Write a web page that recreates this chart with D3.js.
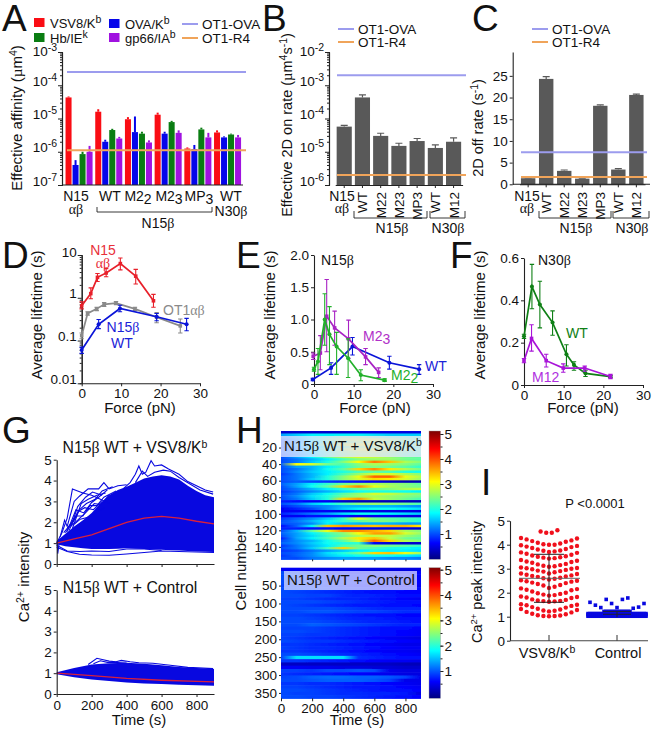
<!DOCTYPE html>
<html>
<head>
<meta charset="utf-8">
<script src="https://cdn.jsdelivr.net/npm/d3@7"></script>
<style>
html, body { margin: 0; padding: 0; background: #fff; }
svg { display: block; }
text { font-family: "Liberation Sans", Arial, sans-serif; fill: #111; }
</style>
</head>
<body>
<div id="fig"></div>
<script>
// panel A, effective affinity
const affGroups = ['N15', 'WT', 'M22', 'M23', 'MP3', 'WT30'];
const affSeries = ['VSV8', 'OVA', 'Hb', 'gp66'];
const affVsv = [4.3e-5, 1.6e-5, 9.5e-6, 1.3e-5, 1.25e-6, 3.8e-6];
const affVsvErr = [4.6e-5, 1.9e-5, 1.1e-5, 1.5e-5, 1.35e-6, 4.4e-6];
const affOva = [4e-7, 2e-6, 3.9e-6, 3.5e-6, 1.2e-6, 2.7e-6];
const affOvaErr = [5.6e-7, 2.3e-6, 1.15e-5, 4e-6, 1.6e-6, 2.9e-6];
const affHb = [8.5e-7, 4.5e-6, 3.5e-6, 7.8e-6, 4.7e-6, 3.3e-6];
const affHbErr = [1e-6, 4.9e-6, 4e-6, 8.5e-6, 5.3e-6, 3.5e-6];
const affGp = [1e-6, 2.5e-6, 1.9e-6, 3.7e-6, 2.7e-6, 2.7e-6];
const affGpErr = [1.5e-6, 2.8e-6, 2.2e-6, 4.4e-6, 3.7e-6, 3.2e-6];
const affOt1Ova = 2.5e-4;
const affOt1R4 = 1.1e-6;

// panels B and C
const rateGroups = ['N15', 'WT', 'M22', 'M23', 'MP3', 'WT30', 'M12'];
const onRate = [5.7e-5, 4.3e-4, 3e-5, 1.5e-5, 2.1e-5, 1.3e-5, 2e-5];
const onRateErr = [6.2e-5, 5.1e-4, 3.6e-5, 1.8e-5, 2.5e-5, 1.6e-5, 2.6e-5];
const onOt1Ova = 2e-3;
const onOt1R4 = 2e-6;
const offRate = [1.4, 24.3, 3.1, 1.3, 18.1, 3.4, 20.6];
const offRateErr = [1.5, 24.8, 3.3, 1.4, 18.3, 3.6, 20.8];
const offOt1Ova = 7.4;
const offOt1R4 = 1.7;

// panels D, E, F: [force, mean, low, high]
const dN15ab = [[0, .65, .55, .8], [2.3, 1.25, .95, 1.7], [4, 3, 2.4, 3.7], [6.2, 3.8, 3.1, 4.8], [9.8, 6.3, 4.5, 8.5], [13.7, 3.2, 2.1, 4.6], [18.2, .85, .6, 1.2]];
const dOt1ab = [[0, .13, .11, .15], [1.5, .43, .39, .47], [3.8, .55, .5, .6], [5.7, .7, .63, .77], [8.7, .75, .69, .82], [13.5, .55, .5, .6], [19, .35, .26, .45], [25, .22, .15, .32]];
const dN15Wt = [[0, .06, .05, .07], [4.3, .24, .19, .31], [9.7, .56, .47, .67], [19, .36, .29, .43], [26.6, .24, .17, .33]];
const eWt = [[-.3, .07, .05, .09], [4.3, .25, .15, .33], [9.7, .58, .45, .72], [19, .33, .23, .43], [26.5, .23, .15, .3]];
const eM23 = [[-.2, .43, .38, .48], [1.6, .48, .22, .75], [3.2, 1.05, .5, 1.62], [5.2, .87, .6, 1.13], [8.7, .7, .4, .99], [13, .42, .3, .55], [16.3, .18, .1, .25]];
const eM22 = [[0, .23, .2, .26], [1, .35, .15, .55], [2.7, 1, .6, 1.4], [3.9, .77, .3, 1.2], [5.7, .58, .15, .8], [8.6, .4, .1, .7], [11.8, .14, .05, .22], [17.8, .06, .04, .08]];
const fWt = [[0, .23, .22, .24], [2, .465, .36, .57], [4, .38, .27, .49], [7.2, .295, .235, .35], [10.7, .145, .09, .19], [12.6, .095, .07, .11], [15.5, .055, .04, .07], [21.8, .04, .035, .045]];
const fM12 = [[0, .115, .105, .125], [1.9, .22, .16, .285], [5.6, .115, .085, .145], [9.9, .08, .06, .1], [15.3, .08, .065, .09], [21.8, .04, .03, .05]];

// panel G: [time, intensity]
const gTopUpper = [[0, 1.1], [50, 1.45], [100, 1.8], [150, 2.1], [200, 2.45], [250, 2.9], [300, 3.3], [350, 3.55], [400, 3.7], [450, 3.9], [500, 4.1], [550, 4.2], [600, 4.25], [650, 4.2], [700, 4.05], [750, 3.75], [800, 3.5], [850, 3.3], [900, 3.2]];
const gTopLower = [[0, .95], [50, .85], [100, .8], [150, .75], [200, .72], [300, .72], [400, .75], [500, .72], [600, .68], [700, .65], [800, .6], [900, .58]];
const gTopMean = [[0, 1], [100, 1.2], [200, 1.4], [300, 1.7], [400, 2], [500, 2.2], [600, 2.28], [700, 2.2], [800, 2.05], [900, 1.92]];
const gTopTraces = [
  [[0, 1], [30, 1.5], [60, 2.2], [90, 3.6], [120, 3.5], [150, 3.4], [200, 3.3], [250, 3.1], [300, 2.9]],
  [[20, 1.3], [45, 2.1], [60, 1.8], [100, 3], [130, 3.25], [180, 3.6], [240, 3.6], [270, 3.9], [300, 3.6], [350, 3.75], [400, 3.8]],
  [[50, 1.5], [100, 2.1], [130, 2.6], [170, 2.9], [220, 3.1], [260, 3.5], [320, 3.7]],
  [[60, 1.7], [110, 2.3], [150, 2.3], [190, 2.8], [230, 2.8], [270, 3.2], [340, 3.5]],
  [[70, 1.6], [120, 2.5], [160, 2.7], [210, 2.6], [260, 3]],
  [[80, 1.8], [120, 2.1], [170, 2.5], [215, 2.9], [250, 2.85], [300, 3.3]],
  [[90, 1.7], [140, 2.9], [180, 3.1], [230, 3.3], [280, 3.4]],
  [[40, 1.5], [90, 2], [120, 2.75], [165, 3.2], [205, 3.45], [260, 3.3]],
  [[100, 1.9], [135, 2.15], [185, 2.25], [225, 2.5], [275, 2.7]],
  [[60, 1.55], [110, 2.6], [155, 2.45], [200, 2.95], [240, 3.2], [290, 3.55]],
  [[380, 3.6], [420, 3.9], [450, 4.3], [470, 4.7], [490, 4.3], [510, 4.4], [540, 4.95], [560, 4.7], [600, 4.75], [640, 4.55], [700, 4.3], [750, 3.95], [800, 3.75], [850, 3.55], [895, 3.45]],
  [[450, 3.9], [490, 4.45], [520, 4.2], [560, 4.4], [610, 4.5], [650, 4.45], [700, 4.15], [760, 3.85], [820, 3.55], [895, 3.35]],
  [[0, .9], [60, .62], [130, .6], [200, .62], [300, .6], [400, .72], [500, .72], [600, .65]],
  [[0, .8], [60, .6], [130, .47], [200, .43], [300, .42], [400, .48], [500, .55], [600, .62], [900, .55]],
  [[3, 1], [6, .5], [14, 1]]
];
const gBotUpper = [[0, 1.05], [100, 1.25], [200, 1.42], [300, 1.48], [400, 1.5], [500, 1.45], [600, 1.38], [700, 1.3], [800, 1.25], [900, 1.2]];
const gBotLower = [[0, .95], [100, .8], [200, .7], [300, .62], [400, .55], [500, .5], [700, .45], [900, .4]];
const gBotMean = [[0, 1], [200, .88], [400, .75], [600, .66], [900, .58]];
const gBotTraces = [
  [[180, 1.42], [230, 1.72], [260, 1.66], [300, 1.58], [340, 1.55], [370, 1.62], [420, 1.55], [470, 1.5], [550, 1.48], [650, 1.38], [750, 1.28], [895, 1.22]],
  [[210, 1.45], [250, 1.6], [290, 1.52], [350, 1.52], [400, 1.54]]
];

// panel H: one row per group of cells, values at 0, 100 ... 900 s
const hTimes = [0, 100, 200, 300, 400, 500, 600, 700, 800, 900];
const hTopRows = [
  [.4, .4, .4, .4, .4, .5, .5, .5, .5, .5],
  [1.4, 1.6, 1.8, 1.8, 1.8, 1.8, 1.7, 1.6, 1.6, 1.6],
  [1.2, 1.5, 1.9, 2.2, 2.5, 2.6, 2.4, 2.3, 2.3, 2.2],
  [1, 1.4, 1.9, 2.4, 2.8, 2.9, 3, 2.7, 2.5, 2.4],
  [1, 1.3, 1.8, 2.2, 2.5, 2.7, 2.6, 2.5, 2.3, 2.1],
  [1, 1.5, 2, 2.6, 3, 3.1, 3, 2.9, 2.6, 2.5],
  [.9, 1.4, 1.8, 2.1, 2.5, 2.7, 2.6, 2.4, 2.3, 2.2],
  [1, 1.3, 1.9, 2.3, 2.8, 3, 3, 2.8, 2.6, 2.3],
  [1.1, 1.4, 1.8, 2.2, 2.6, 2.8, 2.8, 2.6, 2.4, 2.3],
  [1, 1.3, 1.7, 2.2, 2.5, 2.7, 2.7, 2.5, 2.3, 2.2],
  [1, 1.4, 1.8, 2.3, 2.7, 2.9, 2.8, 2.6, 2.4, 2.3],
  [1, 1.2, 1.5, 1.8, 2.2, 2.5, 2.6, 2.6, 2.4, 2.3],
  [1, 1.2, 1.6, 2, 2.5, 3.1, 3.8, 3.4, 2.7, 2.5],
  [1.1, 3.1, 2.9, 2.4, 2.2, 2.5, 2.7, 2.6, 2.5, 2.3],
  [1, 1.4, 1.5, 1.8, 2.1, 2.4, 2.5, 2.4, 2.3, 2.1],
  [1, 1.2, 1.5, 1.9, 2.3, 3.3, 3.7, 3.2, 2.7, 2.4],
  [1, 1.3, 1.6, 1.8, 2, 2.2, 2.3, 2.2, 2, 1.9],
  [.9, 1.2, 1.5, 1.8, 2.2, 2.6, 2.9, 2.9, 2.7, 2.5],
  [1, 1.2, 1.5, 2, 2.5, 3, 3.9, 3.9, 3, 2.7],
  [1, 1.2, 1.6, 2, 2.5, 2.9, 3.3, 3.2, 2.9, 2.6],
  [1, 1.1, 1, .9, .8, .7, .6, .4, .3, .3],
  [1.1, 1.4, 1.8, 2.1, 2.4, 2.6, 2.7, 2.6, 2.5, 2.3],
  [1, 1.4, 1.9, 2.3, 3.3, 3.7, 3, 2.7, 2.5, 2.4],
  [1, 1.2, 1.5, 1.8, 2.1, 2.4, 2.4, 2.5, 2.7, 2.8],
  [.9, 1.1, 1.3, 1.5, 1.7, 1.9, 2, 2, 1.9, 1.8],
  [1, 1.2, 1.6, 1.9, 2.3, 2.6, 2.9, 2.8, 2.6, 2.5],
  [1, 1.3, 1.7, 2, 2.4, 2.6, 2.7, 2.6, 2.5, 2.4],
  [1, 1.2, 1.6, 2, 3.3, 3.6, 2.8, 2.6, 2.4, 2.2],
  [.8, .7, .6, .6, .4, .3, .3, .3, .3, .3],
  [1, 1.2, 1.6, 1.9, 2.2, 2.5, 2.6, 2.5, 2.4, 2.2],
  [.8, 1, 1.2, 1.3, 1.5, 1.5, 1.5, 1.5, 1.4, 1.3],
  [.6, .8, 1, 1.3, 1.6, 1.8, 1.9, 1.9, 1.8, 1.7],
  [.6, .6, .6, .6, .5, .5, .5, .5, .5, .5],
  [.8, 1, 1.2, 1.4, 1.7, 1.9, 1.9, 1.8, 1.7, 1.6],
  [.6, .6, .7, .7, .7, .6, .6, .6, .5, .5],
  [.9, 1.1, 1.3, 1.6, 2.1, 3, 2.4, 2.3, 2.2, 2.1],
  [1, 1.2, 1.5, 1.8, 2.1, 2.3, 2.5, 2.4, 2.2, 2],
  [1, 1.1, 1.3, 1.8, 1.6, 1.5, 1.5, 1.5, 1.4, 1.4],
  [.7, 1.1, 1.8, 3.4, 3.6, 3.5, 3.4, 3.5, 3.5, 3.2],
  [.8, .8, .7, .7, .6, .6, .5, .5, .5, .4],
  [1, 1.5, 2.3, 3, 3.7, 3.7, 3.5, 3.3, 2.7, 2.5],
  [1.1, 1.4, 1.8, 2.2, 2.5, 3.1, 3.6, 3.6, 2.9, 2.6],
  [1, 1.4, 1.7, 2.1, 2.4, 2.7, 2.8, 2.8, 2.6, 2.4],
  [.8, 1.4, 1.8, 2.2, 2.7, 3.2, 3.4, 2.8, 2.4, 2.3],
  [1, 1.3, 1.5, 1.9, 2.3, 2.9, 3.9, 3.3, 2.7, 2.5],
  [1.1, 1.3, 1.6, 1.9, 2, 2.1, .6, .4, .4, .4],
  [.9, 1.2, 1.5, 1.8, 2.2, 2.4, 2.5, 2.4, 2.3, 2.1],
  [1, 1.2, 1.6, 2.2, 3.3, 2.4, 2.2, 2, 1.9, 1.8],
  [.9, 1, 1.2, 1.4, 1.6, 1.8, 1.9, 1.8, 1.8, 1.7],
  [1, 1.1, 1.3, 1.7, 2, 2.4, 3.3, 3.4, 3, 2.6],
  [.9, 1.1, 1.3, 1.6, 1.8, 1.9, 1.9, 1.9, 1.8, 1.7],
  [1, 1, 1.2, 1.3, 1.4, 1.4, 1.4, 1.3, 1.3, 1.2]
];
const hBotRows = [
  [.6, .6, .5, .5, .5, .5, .5, .5, .5, .5],
  [1, .95, .9, .8, .75, .7, .7, .7, .65, .65],
  [1, 1, .9, .85, .8, .75, .7, .7, .7, .65],
  [1, .95, .9, .85, .8, .75, .75, .7, .65, .65],
  [1, 1, .95, .85, .8, .8, .75, .7, .7, .65],
  [.95, .95, .9, .85, .8, .7, .7, .65, .65, .6],
  [1, 1, .95, .9, .85, .8, .75, .75, .7, .7],
  [1, .95, .9, .85, .8, .75, .7, .7, .65, .65],
  [1, 1, .95, .95, .85, .8, .8, .75, .7, .7],
  [.95, .95, .9, .85, .8, .8, .75, .7, .65, .6],
  [1, 1, 1, .95, .9, .85, .8, .75, .7, .7],
  [1, .95, .9, .85, .8, .75, .75, .7, .7, .65],
  [1, 1, 1, 1, .95, .9, .85, .8, .8, .8],
  [1, 1, 1.05, 1.05, 1, .95, .95, .9, .85, .85],
  [.95, .95, .9, .85, .8, .75, .7, .7, .65, .65],
  [1, 1, .95, .9, .85, .8, .8, .75, .7, .7],
  [1, 1, 1, .95, .9, .85, .8, .8, .75, .7],
  [1, 1, 1.1, 1.05, 1, .95, .9, .85, .8, .8],
  [.95, .95, .95, .9, .85, .8, .75, .7, .7, .65],
  [1, 1, .95, .9, .85, .8, .75, .7, .65, .6],
  [.95, .95, .9, .9, .85, .8, .75, .7, .65, .6],
  [.95, .9, .85, .8, .75, .7, .65, .6, .55, .5],
  [1, .95, .9, .9, .85, .8, .75, .7, .65, .6],
  [.9, .9, .85, .8, .75, .7, .65, .6, .55, .55],
  [.95, .9, .85, .85, .8, .75, .7, .65, .6, .6],
  [.9, .9, .85, .8, .75, .7, .65, .6, .6, .55],
  [1, 1, .95, .9, .85, .8, .75, .7, .65, .6],
  [.95, 1.7, 1.7, 1.7, 1.7, .85, .8, .75, .7, .7],
  [.9, .9, .85, .8, .75, .7, .65, .6, .6, .55],
  [.35, .35, .35, .35, .35, .35, .35, .35, .3, .3],
  [.6, .6, .55, .55, .5, .5, .45, .45, .4, .4],
  [.95, .95, .9, 1, 1, 1.05, 1, .55, .5, .5],
  [.9, .85, .8, .75, .7, .65, .6, .55, .5, .5],
  [.95, 1, 1.1, 1.15, 1.15, 1.1, 1.1, 1.05, .95, .55],
  [1, 1, 1.05, 1.1, 1.1, 1.1, 1.05, .95, .55, .55],
  [.9, .9, .85, .85, .8, .75, .7, .65, .6, .55],
  [.95, .95, .9, .85, .8, .75, .75, .7, .65, .6],
  [1, 1, .95, .9, .85, .8, .75, .7, .7, .65],
  [1, .95, .95, .9, .85, .85, .8, .8, .75, .5],
  [1, 1, .95, .95, .9, .85, .8, .75, .7, .65]
];

// panel I: each array is one arc of the swarm, sorted from the middle outwards
const iVsvArcs = [
  [1.02, 1.03, 1.03, 1.05, 1.06, 1.1, 1.12, 1.18, 1.2, 1.28, 1.32],
  [1.22, 1.25, 1.26, 1.3, 1.33, 1.38, 1.4, 1.45, 1.48, 1.5, 1.52],
  [1.62, 1.64, 1.65, 1.66, 1.68, 1.7, 1.72, 1.78, 1.8, 1.82, 1.84],
  [1.88, 1.9, 1.92, 1.95, 1.98, 2, 2.05, 2.1, 2.12, 2.15, 2.18],
  [2.2, 2.25, 2.3, 2.32, 2.36, 2.4, 2.42, 2.46, 2.48, 2.5, 2.52],
  [2.55, 2.58, 2.6, 2.62, 2.66, 2.68, 2.7, 2.72, 2.75, 2.78, 2.8],
  [2.8, 2.85, 2.88, 2.9, 2.92, 2.95, 2.98, 3, 3.02, 3.03, 3.05],
  [3.08, 3.1, 3.12, 3.15, 3.18, 3.2, 3.25, 3.28, 3.3, 3.33, 3.36],
  [3.42, 3.44, 3.46, 3.48, 3.5, 3.52, 3.55, 3.58, 3.62, 3.66, 3.68],
  [3.7, 3.72, 3.75, 3.76, 3.8, 3.82, 3.86, 3.9, 3.92, 3.95, 3.98],
  [4, 4, 4.02, 4.05, 4.08, 4.12, 4.15, 4.18, 4.22, 4.26, 4.28],
  [4.5, 4.5, 4.55, 4.6]
];
const iCtlDense = [
  Array(30).fill(1.02),
  Array(30).fill(1.08),
  Array(30).fill(1.13),
  Array(14).fill(1.22)
];
const iCtlSparse = [1.6, 1.48, 1.38, 1.72, 1.55, 1.38, 1.72, 1.78, 1.35, 1.4, 1.55];
const iVsvMean = 2.6;
const iVsvSd = 1;
const iCtlMean = 1.1;
const iCtlSd = .12;

const red = '#fa0d14', blue = '#0505ea', green = '#0a7d12', purple = '#a012e0';
const lavender = '#9c9cee', orange = '#f0a45a', barGray = '#595959';
const affColors = [red, blue, green, purple];
const affVals = [affVsv, affOva, affHb, affGp];
const affErrs = [affVsvErr, affOvaErr, affHbErr, affGpErr];

const svg = d3.select('#fig').append('svg').attr('width', 652).attr('height', 733);

// mini markup: ^{x} raises, _{x} lowers, greek letters get the serif face
function rich(sel, str, small) {
  const parts = str.split(/(\^\{.*?\}|_\{.*?\}|[αβµ])/).filter(s => s.length);
  let shift = 0;
  parts.forEach(p => {
    const span = sel.append('tspan');
    let d = 0;
    if (p[0] === '^') { d = -5; span.text(p.slice(2, -1)).style('font-size', (small || 10.5) + 'px'); }
    else if (p[0] === '_') { d = 3; span.text(p.slice(2, -1)); }
    else if ('αβµ'.includes(p)) { span.text(p).style('font-family', '"Liberation Serif", serif'); }
    else { span.text(p); }
    span.attr('dy', d - shift);
    shift = d;
  });
  return sel;
}

function label(x, y, str, opts) {
  const o = opts || {};
  const t = svg.append('text').attr('x', x).attr('y', y)
    .attr('text-anchor', o.anchor || 'start')
    .style('font-size', (o.size || 14) + 'px');
  if (o.color) t.style('fill', o.color);
  return rich(t, str, o.small);
}

function vLabel(x, y, str, size, small) {
  const t = svg.append('text')
    .attr('transform', `translate(${x},${y}) rotate(-90)`)
    .attr('text-anchor', 'middle')
    .style('font-size', (size || 15) + 'px');
  return rich(t, str, small);
}

function styleAxis(g) {
  g.selectAll('path').attr('stroke', '#222').attr('stroke-width', 1.1);
  g.selectAll('line').attr('stroke', '#222').attr('stroke-width', 1);
  g.selectAll('text').style('font-size', '13.5px').attr('fill', '#111');
}

function logAxis(scale, x, lo, hi, labelFn, topShift) {
  const decades = d3.range(lo, hi + 1).map(e => Math.pow(10, e));
  const minors = [];
  decades.slice(0, -1).forEach(d => d3.range(2, 10).forEach(k => minors.push(d * k)));
  svg.append('g').attr('transform', `translate(${x},0)`)
    .call(d3.axisLeft(scale).tickValues(minors).tickSize(2).tickFormat('')).call(styleAxis);
  const g = svg.append('g').attr('transform', `translate(${x},0)`)
    .call(d3.axisLeft(scale).tickValues(decades).tickSize(4).tickSizeOuter(0).tickPadding(3).tickFormat('')).call(styleAxis);
  g.selectAll('.tick').each(function (d, i) {
    const t = d3.select(this).append('text').attr('x', -5)
      .attr('y', i === decades.length - 1 ? topShift : 0).attr('dy', '.36em')
      .attr('text-anchor', 'end').attr('fill', '#111').style('font-size', '13.5px');
    rich(t, labelFn(d), 10.5);
  });
}

const expLabel = d => '10^{' + Math.round(Math.log10(d)) + '}';

function hLine(x0, x1, y, color) {
  svg.append('line').attr('x1', x0).attr('x2', x1).attr('y1', y).attr('y2', y)
    .attr('stroke', color).attr('stroke-width', 2);
}

function bracket(x0, x1, y, up, color) {
  svg.append('path').attr('fill', 'none').attr('stroke', color || '#222').attr('stroke-width', .9)
    .attr('d', `M${x0},${y - up}V${y}H${x1}V${y - up}`);
}

function letter(x, y, s) {
  svg.append('text').attr('x', x).attr('y', y).text(s).style('font-size', '37px').attr('fill', '#000');
}

function lineLegend(x, yTop, yBot) {
  hLine(x, x + 16, yTop, lavender);
  hLine(x, x + 16, yBot, orange);
  label(x + 20, yTop + 5, 'OT1-OVA', { size: 13.5 });
  label(x + 20, yBot + 5, 'OT1-R4', { size: 13.5 });
}

// ---------- A ----------
(function () {
  const y = d3.scaleLog().domain([1e-7, 1e-3]).range([185, 52]);
  const x = d3.scaleBand().domain(affGroups).range([64.2, 242.4]).paddingInner(.09).paddingOuter(.045);
  const xs = d3.scaleBand().domain(affSeries).range([0, x.bandwidth()]).paddingInner(.14);
  const bars = [];
  affSeries.forEach((s, si) => affGroups.forEach((g, gi) => {
    bars.push({ g: g, s: s, c: affColors[si], v: affVals[si][gi], e: affErrs[si][gi] });
  }));
  svg.append('g').selectAll('rect').data(bars).enter().append('rect')
    .attr('x', d => x(d.g) + xs(d.s)).attr('width', xs.bandwidth())
    .attr('y', d => y(d.v)).attr('height', d => y(1e-7) - y(d.v))
    .attr('fill', d => d.c);
  svg.append('g').selectAll('line').data(bars).enter().append('line')
    .attr('x1', d => x(d.g) + xs(d.s) + xs.bandwidth() / 2)
    .attr('x2', d => x(d.g) + xs(d.s) + xs.bandwidth() / 2)
    .attr('y1', d => y(d.v)).attr('y2', d => y(d.e))
    .attr('stroke', d => d.c).attr('stroke-width', 2);
  logAxis(y, 62, -7, -3, expLabel, 3.5);
  svg.append('line').attr('x1', 62).attr('x2', 243).attr('y1', 185).attr('y2', 185).attr('stroke', '#222').attr('stroke-width', 1.1);
  hLine(67, 246, y(affOt1Ova), lavender);
  hLine(67, 246, y(affOt1R4), orange);

  vLabel(22, 118, 'Effective affinity (µm^{4})');
  letter(2, 31, 'A');
  label(76, 201, 'N15', { anchor: 'middle' });
  label(76, 214, 'αβ', { anchor: 'middle' });
  label(110, 201, 'WT', { anchor: 'middle' });
  label(138, 201, 'M2_{2}', { anchor: 'middle' });
  label(169, 201, 'M2_{3}', { anchor: 'middle' });
  label(199, 201, 'MP_{3}', { anchor: 'middle' });
  label(231, 201, 'WT', { anchor: 'middle' });
  label(231, 216, 'N30β', { anchor: 'middle' });
  bracket(97, 212, 212, 5);
  label(158, 228, 'N15β', { anchor: 'middle' });

  const legend = [[34, 18, red, 'VSV8/K^{b}'], [34, 33, green, 'Hb/IE^{k}'], [109, 19, blue, 'OVA/K^{b}'], [109, 33, purple, 'gp66/IA^{b}']];
  legend.forEach(d => {
    svg.append('rect').attr('x', d[0]).attr('y', d[1]).attr('width', 10.5).attr('height', 9).attr('fill', d[2]);
    label(d[0] + 16, d[1] + 10, d[3], { size: 13 });
  });
  lineLegend(182, 24, 38);
})();

// ---------- B and C ----------
function grayBars(x, y, base, vals, errs, groups) {
  const rows = groups.map((g, i) => ({ g: g, v: vals[i], e: errs[i] }));
  svg.append('g').selectAll('rect').data(rows).enter().append('rect')
    .attr('x', d => x(d.g)).attr('width', x.bandwidth())
    .attr('y', d => y(d.v)).attr('height', d => y(base) - y(d.v))
    .attr('fill', barGray);
  const eb = svg.append('g').attr('stroke', barGray).attr('stroke-width', 1.2).attr('fill', 'none');
  rows.forEach(d => {
    const c = x(d.g) + x.bandwidth() / 2;
    eb.append('path').attr('d', `M${c},${y(d.v)}V${y(d.e)}M${c - 3.5},${y(d.e)}H${c + 3.5}`);
  });
  svg.append('g').attr('transform', `translate(0,${y(base)})`)
    .call(d3.axisBottom(x).tickSize(3).tickSizeOuter(0).tickFormat('')).call(styleAxis);
}

function rotatedNames(x, names, groups) {
  groups.forEach((g, i) => {
    if (i === 0) return;
    const t = svg.append('text')
      .attr('transform', `translate(${x(g) + x.bandwidth() / 2 + 5},192) rotate(-90)`)
      .attr('text-anchor', 'end').style('font-size', '13.5px');
    rich(t, names[i]);
  });
}

const rateNames = ['N15', 'WT', 'M22', 'M23', 'MP3', 'WT', 'M12'];

(function () {
  const y = d3.scaleLog().domain([1e-6, 1e-2]).range([185, 52]);
  const x = d3.scaleBand().domain(rateGroups).range([335.2, 462.6]).paddingInner(.17).paddingOuter(.08);
  grayBars(x, y, 1e-6, onRate, onRateErr, rateGroups);
  logAxis(y, 329, -6, -2, expLabel, 3.5);
  hLine(337, 466, y(onOt1Ova), lavender);
  hLine(337, 466, y(onOt1R4), orange);
  vLabel(292, 125, 'Effective 2D on rate (µm^{4}s^{-1})', 14.5);
  letter(262, 31, 'B');
  lineLegend(338, 29, 42);
  label(342, 201, 'N15', { anchor: 'middle' });
  label(342, 213, 'αβ', { anchor: 'middle' });
  rotatedNames(x, rateNames, rateGroups);
  bracket(354, 427, 218, 7);
  bracket(430, 465, 218, 7);
  label(392, 233, 'N15β', { anchor: 'middle' });
  label(448, 233, 'N30β', { anchor: 'middle' });
})();

(function () {
  const y = d3.scaleLinear().domain([0, 30.5]).range([184.3, 52]);
  const x = d3.scaleBand().domain(rateGroups).range([519.5, 645]).paddingInner(.2).paddingOuter(.08);
  grayBars(x, y, 0, offRate, offRateErr, rateGroups);
  svg.append('g').attr('transform', 'translate(512.7,0)')
    .call(d3.axisLeft(y).tickValues([0, 5, 10, 15, 20, 25]).tickSize(3).tickSizeOuter(0).tickPadding(2)).call(styleAxis);
  svg.append('line').attr('x1', 512.7).attr('x2', 650).attr('y1', 184.3).attr('y2', 184.3).attr('stroke', '#222').attr('stroke-width', 1.1);
  hLine(521, 647, y(offOt1Ova), lavender);
  hLine(521, 647, y(offOt1R4), orange);
  vLabel(483, 128, '2D off rate (s^{-1})', 14.5);
  letter(472, 31, 'C');
  lineLegend(532, 29, 42);
  label(527, 201, 'N15', { anchor: 'middle' });
  label(527, 213, 'αβ', { anchor: 'middle' });
  rotatedNames(x, rateNames, rateGroups);
  bracket(539, 611, 218, 7);
  bracket(613, 649, 218, 7);
  label(576, 233, 'N15β', { anchor: 'middle' });
  label(632, 233, 'N30β', { anchor: 'middle' });
})();

// ---------- D, E, F ----------
function lifeSeries(x, y, rows, color, marker) {
  const line = d3.line().x(d => x(d[0])).y(d => y(d[1]));
  const g = svg.append('g');
  g.append('path').attr('d', line(rows)).attr('fill', 'none').attr('stroke', color).attr('stroke-width', 1.7);
  rows.forEach(d => {
    const c = x(d[0]);
    g.append('path').attr('fill', 'none').attr('stroke', color).attr('stroke-width', 1.1)
      .attr('d', `M${c},${y(d[2])}V${y(d[3])}M${c - 2.2},${y(d[2])}H${c + 2.2}M${c - 2.2},${y(d[3])}H${c + 2.2}`);
  });
  g.selectAll('path.pt').data(rows).enter().append('path').attr('class', 'pt')
    .attr('transform', d => `translate(${x(d[0])},${y(d[1])})`)
    .attr('d', d3.symbol().type(marker).size(13))
    .attr('fill', color);
}

function forceAxis(x, yPos) {
  svg.append('g').attr('transform', `translate(0,${yPos})`)
    .call(d3.axisBottom(x).tickValues([0, 10, 20, 30]).tickSize(3).tickSizeOuter(0).tickPadding(2)).call(styleAxis);
}

(function () {
  const x = d3.scaleLinear().domain([0, 30]).range([81.7, 200]);
  const y = d3.scaleLog().domain([.01, 10]).range([383.3, 255]);
  forceAxis(x, 383.3);
  logAxis(y, 81.7, -2, 1, d => String(d), 1.5);
  lifeSeries(x, y, dOt1ab, '#8a8a8a', d3.symbolSquare);
  lifeSeries(x, y, dN15ab, '#e8202a', d3.symbolSquare);
  lifeSeries(x, y, dN15Wt, '#0a14d8', d3.symbolCircle);
  letter(2, 268, 'D');
  vLabel(42, 315, 'Average lifetime (s)');
  label(140, 413, 'Force (pN)', { anchor: 'middle', size: 15 });
  label(103, 255, 'N15', { anchor: 'middle', color: '#e8303a' });
  label(103, 268, 'αβ', { anchor: 'middle', color: '#e8303a' });
  label(163, 315, 'OT1αβ', { color: '#8a8a8a' });
  label(123, 332, 'N15β', { anchor: 'middle', color: '#1a22d8' });
  label(122, 348, 'WT', { anchor: 'middle', color: '#1a22d8' });
})();

(function () {
  const x = d3.scaleLinear().domain([0, 30]).range([314, 433]);
  const y = d3.scaleLinear().domain([0, 2]).range([384, 255]);
  forceAxis(x, 384);
  svg.append('g').attr('transform', 'translate(314,0)')
    .call(d3.axisLeft(y).tickValues([0, .5, 1, 1.5, 2]).tickSize(3).tickSizeOuter(0).tickPadding(2)
      .tickFormat(d => d === 0 ? '0' : d3.format('.1f')(d))).call(styleAxis);
  lifeSeries(x, y, eWt, '#0a14d8', d3.symbolCircle);
  lifeSeries(x, y, eM23, '#a822c4', d3.symbolSquare);
  lifeSeries(x, y, eM22, '#22b02a', d3.symbolCircle);
  letter(236, 268, 'E');
  vLabel(275, 315, 'Average lifetime (s)');
  label(375, 413, 'Force (pN)', { anchor: 'middle', size: 15 });
  label(321, 265, 'N15β');
  label(363, 341, 'M2_{3}', { color: '#b030c8' });
  label(391, 380, 'M2_{2}', { color: '#22b02a' });
  label(425, 371, 'WT', { color: '#1a22d8' });
})();

(function () {
  const x = d3.scaleLinear().domain([0, 30]).range([524, 643]);
  const y = d3.scaleLinear().domain([0, .6]).range([385, 258]);
  forceAxis(x, 385);
  svg.append('g').attr('transform', 'translate(524,0)')
    .call(d3.axisLeft(y).tickValues([0, .2, .4, .6]).tickSize(3).tickSizeOuter(0).tickPadding(2)
      .tickFormat(d => d === 0 ? '0' : d3.format('.1f')(d))).call(styleAxis);
  lifeSeries(x, y, fWt, '#0f8016', d3.symbolCircle);
  lifeSeries(x, y, fM12, '#a814d8', d3.symbolSquare);
  letter(450, 268, 'F');
  vLabel(485, 315, 'Average lifetime (s)');
  label(583, 413, 'Force (pN)', { anchor: 'middle', size: 15 });
  label(538, 265, 'N30β');
  label(566, 338, 'WT', { color: '#0f8016' });
  label(532, 382, 'M12', { color: '#b030e0' });
})();

// ---------- G ----------
function caPanel(yTop, yBot, upper, lower, mean, traces, showLabels) {
  const x = d3.scaleLinear().domain([0, 900]).range([56.7, 214]);
  const y = d3.scaleLinear().domain([0, 5]).range([yBot, yTop]);
  const lowerAt = d3.scaleLinear().domain(lower.map(d => d[0])).range(lower.map(d => d[1]));
  svg.append('path')
    .attr('d', d3.area().x(d => x(d[0])).y0(d => y(lowerAt(d[0]))).y1(d => y(d[1]))(upper))
    .attr('fill', '#0808e0');
  const line = d3.line().x(d => x(d[0])).y(d => y(d[1]));
  traces.forEach(tr => {
    svg.append('path').attr('d', line(tr)).attr('fill', 'none').attr('stroke', '#0808e0').attr('stroke-width', 1.1);
  });
  svg.append('path').attr('d', line(mean)).attr('fill', 'none').attr('stroke', '#d8203c').attr('stroke-width', 1.3);
  const ax = d3.axisBottom(x).tickValues([0, 200, 400, 600, 800]).tickSize(3).tickSizeOuter(0).tickPadding(3);
  if (!showLabels) ax.tickFormat('');
  svg.append('g').attr('transform', `translate(0,${yBot})`).call(ax).call(styleAxis);
  svg.append('g').attr('transform', 'translate(56.7,0)')
    .call(d3.axisLeft(y).tickValues([0, 1, 2, 3, 4, 5]).tickFormat(d3.format('d')).tickSize(3).tickSizeOuter(0).tickPadding(2)).call(styleAxis);
}

caPanel(459.7, 564, gTopUpper, gTopLower, gTopMean, gTopTraces, false);
caPanel(590, 694, gBotUpper, gBotLower, gBotMean, gBotTraces, true);
letter(2, 443, 'G');
label(135, 453, 'N15β WT + VSV8/K^{b}', { anchor: 'middle', size: 15.8 });
label(130, 593, 'N15β WT + Control', { anchor: 'middle', size: 15.8 });
vLabel(29, 577, 'Ca^{2+} intensity');
label(139, 725, 'Time (s)', { anchor: 'middle', size: 15 });

// ---------- H ----------
const jet = d3.scaleLinear()
  .domain([0, .65, 1.85, 3.1, 4.4, 5.1])
  .range(['#00007f', '#0000ff', '#00ffff', '#ffff00', '#ff0000', '#800000']);
const defs = svg.append('defs');
defs.append('filter').attr('id', 'soft').attr('x', '0').attr('y', '0').attr('width', '1').attr('height', '1')
  .append('feGaussianBlur').attr('stdDeviation', '0.35');

function heat(id, rows, yTop, yBot, cells, ticks) {
  const x = d3.scaleLinear().domain([0, 900]).range([281, 421]);
  const y = d3.scaleLinear().domain([0, cells]).range([yTop, yBot]);
  const band = d3.scaleBand().domain(d3.range(rows.length)).range([yTop, yBot]);
  rows.forEach((r, i) => {
    const grad = defs.append('linearGradient').attr('id', id + i);
    r.forEach((v, j) => {
      grad.append('stop').attr('offset', (hTimes[j] / 900 * 100) + '%').attr('stop-color', jet(v));
    });
  });
  svg.append('g').attr('filter', 'url(#soft)').selectAll('rect').data(rows).enter().append('rect')
    .attr('x', x(0)).attr('width', x(900) - x(0))
    .attr('y', (d, i) => band(i)).attr('height', band.bandwidth() + .6)
    .attr('fill', (d, i) => `url(#${id + i})`);
  svg.append('g').attr('transform', 'translate(281,0)')
    .call(d3.axisLeft(y).tickValues(ticks).tickSize(2).tickSizeOuter(0).tickPadding(2)).call(g => {
      styleAxis(g);
      g.select('path').remove();
    });
  return x;
}

function colorBar(id, yTop, yBot, yFive, yOne) {
  const y = d3.scaleLinear().domain([5, 1]).range([yFive, yOne]);
  const grad = defs.append('linearGradient').attr('id', id).attr('x1', 0).attr('x2', 0).attr('y1', 1).attr('y2', 0);
  const maxV = y.invert(yTop);
  jet.domain().forEach(v => {
    grad.append('stop').attr('offset', Math.min(v / maxV, 1) * 100 + '%').attr('stop-color', jet(v));
  });
  svg.append('rect').attr('x', 429).attr('y', yTop).attr('width', 11.5).attr('height', yBot - yTop)
    .attr('fill', `url(#${id})`).attr('stroke', '#999').attr('stroke-width', .4);
  svg.append('g').attr('transform', 'translate(440.5,0)')
    .call(d3.axisRight(y).tickValues(d3.range(.5, 5.5, .5)).tickSize(2).tickSizeOuter(0).tickFormat('')).call(g => {
      styleAxis(g);
      g.select('path').remove();
    });
  svg.append('g').attr('transform', 'translate(440.5,0)')
    .call(d3.axisRight(y).tickValues([1, 2, 3, 4, 5]).tickSize(3).tickSizeOuter(0).tickPadding(1).tickFormat(d3.format('d'))).call(g => {
      styleAxis(g);
      g.select('path').remove();
    });
}

heat('ht', hTopRows, 431, 559.3, 155, [20, 40, 60, 80, 100, 120, 140]);
const hx = heat('hb', hBotRows, 567.7, 698.3, 365, [50, 100, 150, 200, 250, 300, 350]);
svg.append('g').attr('transform', 'translate(0,559.3)')
  .call(d3.axisBottom(hx).tickValues([200, 400, 600, 800]).tickSize(2).tickSizeOuter(0).tickFormat('')).call(g => {
    styleAxis(g);
    g.select('path').remove();
  });
svg.append('g').attr('transform', 'translate(0,698.3)')
  .call(d3.axisBottom(hx).tickValues([0, 200, 400, 600, 800]).tickSize(3).tickSizeOuter(0).tickPadding(2)).call(g => {
    styleAxis(g);
    g.select('path').remove();
  });
colorBar('cb1', 431, 559.3, 434, 534);
colorBar('cb2', 567.7, 698.3, 569.7, 671);
svg.append('rect').attr('x', 281).attr('y', 436).attr('width', 140).attr('height', 21).attr('fill', '#e4e4ff').attr('opacity', .78);
svg.append('rect').attr('x', 284).attr('y', 571).attr('width', 133).attr('height', 19).attr('fill', '#e4e4ff').attr('opacity', .72);
label(284, 451, 'N15β WT + VSV8/K^{b}', { size: 15 });
label(287, 585, 'N15β WT + Control', { size: 15 });
letter(236, 443, 'H');
vLabel(246, 570, 'Cell number');
label(357, 725, 'Time (s)', { anchor: 'middle', size: 15 });

// ---------- I ----------
(function () {
  const y = d3.scaleLinear().domain([0, 5]).range([640.7, 520.7]);
  const x = d3.scalePoint().domain(['VSV8', 'Control']).range([549, 617]);

  function swarm(arc, cx, step) {
    // lowest value in the middle, the rest alternating outwards
    const even = arc.length % 2 === 0 ? .5 : 0;
    return arc.map((v, i) => {
      const k = Math.ceil(i / 2) * (i % 2 ? 1 : -1);
      return { x: cx + (k - even) * step, y: y(v) };
    });
  }

  const vsvPts = iVsvArcs.flatMap(a => swarm(a, x('VSV8'), 5.6));
  svg.append('g').selectAll('circle').data(vsvPts).enter().append('circle')
    .attr('cx', d => d.x).attr('cy', d => d.y).attr('r', 2.2).attr('fill', '#f0101c');

  const ctlPts = iCtlDense.flatMap(a => swarm(a, x('Control'), 2));
  iCtlSparse.forEach((v, i) => ctlPts.push({ x: x('Control') + (i - 5) * 5.4, y: y(v) }));
  svg.append('g').selectAll('rect').data(ctlPts).enter().append('rect')
    .attr('x', d => d.x - 1.8).attr('y', d => d.y - 1.8).attr('width', 3.6).attr('height', 3.6).attr('fill', '#0808e0');

  // mean and sd bars
  svg.append('line').attr('x1', x('VSV8') - 30).attr('x2', x('VSV8') + 31)
    .attr('y1', y(iVsvMean)).attr('y2', y(iVsvMean)).attr('stroke', '#666').attr('stroke-width', 1);
  const c = x('VSV8');
  svg.append('path').attr('fill', 'none').attr('stroke', '#222').attr('stroke-width', 1)
    .attr('d', `M${c},${y(iVsvMean - iVsvSd)}V${y(iVsvMean + iVsvSd)}M${c - 15},${y(iVsvMean + iVsvSd)}H${c + 15}M${c - 15},${y(iVsvMean - iVsvSd)}H${c + 15}`);
  const c2 = x('Control');
  svg.append('path').attr('fill', 'none').attr('stroke', '#222').attr('stroke-width', .9)
    .attr('d', `M${c2},${y(iCtlMean - iCtlSd)}V${y(iCtlMean + iCtlSd)}M${c2 - 14},${y(iCtlMean + iCtlSd)}H${c2 + 14}M${c2 - 14},${y(iCtlMean)}H${c2 + 14}`);

  svg.append('g').attr('transform', 'translate(510,0)')
    .call(d3.axisLeft(y).tickValues([0, 1, 2, 3, 4, 5]).tickFormat(d3.format('d')).tickSize(3).tickSizeOuter(0).tickPadding(2)).call(styleAxis);
  svg.append('line').attr('x1', 510).attr('x2', 648).attr('y1', 640.7).attr('y2', 640.7).attr('stroke', '#444').attr('stroke-width', 1.1);
  [c, c2].forEach(v => svg.append('line').attr('x1', v).attr('x2', v).attr('y1', 635).attr('y2', 640.7).attr('stroke', '#333'));

  label(547, 658, 'VSV8/K^{b}', { anchor: 'middle', size: 14.5 });
  label(618, 658, 'Control', { anchor: 'middle', size: 14.5 });
  label(595, 508, 'P <0.0001', { anchor: 'middle', size: 13 });
  vLabel(482, 582, 'Ca^{2+} peak intensity', 14.5, 9.5);
  letter(481, 495, 'I');
})();
</script>
</body>
</html>
